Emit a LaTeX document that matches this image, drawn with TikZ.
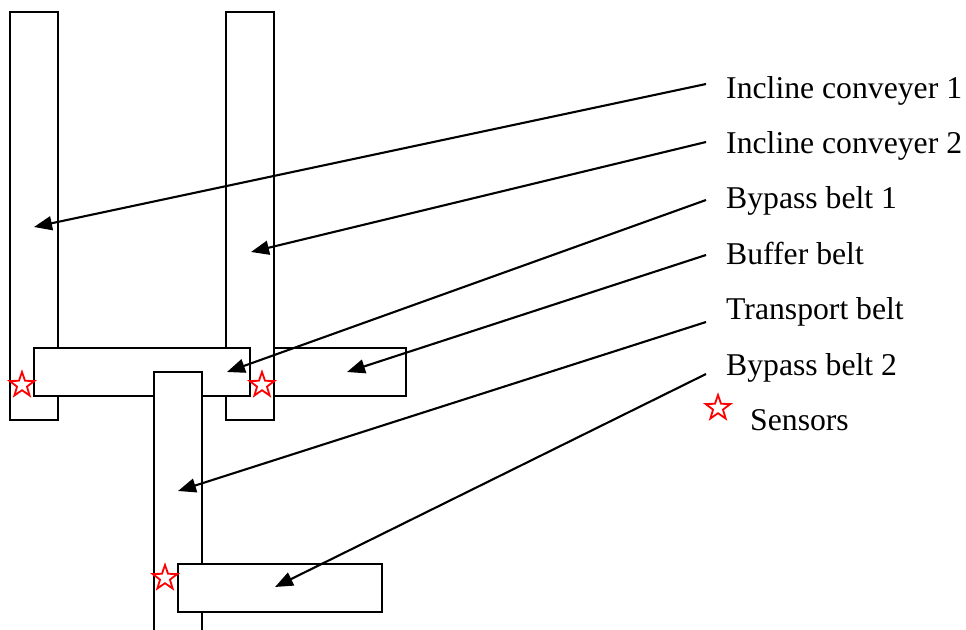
\documentclass[tikz,border=0pt]{standalone}
\usepackage{fontspec}
\setmainfont{Liberation Serif}
\usetikzlibrary{shapes.geometric,arrows.meta}
\begin{document}
\begin{tikzpicture}[x=1pt,y=-1pt,
  belt/.style={draw, fill=white, line width=2.4pt, inner sep=0pt, outer sep=0pt},
  sensor/.style={star, star points=5, star point ratio=2.5, draw=red,
    line width=1.8pt, minimum size=26pt, inner sep=0pt},
  lbl/.style={anchor=base west, inner sep=0pt, font=\fontsize{31.7}{36}\selectfont},
  leader/.style={line width=2.1pt, -{Triangle[length=18pt,width=14pt]}}]
\useasboundingbox (0,0) rectangle (966,629);

% incline conveyers (vertical)
\node[belt, minimum width=48pt, minimum height=408pt] (inc1) at (34,216) {};
\node[belt, minimum width=48pt, minimum height=408pt] (inc2) at (250,216) {};
% buffer belt and bypass belt 1 (horizontal)
\node[belt, minimum width=132pt, minimum height=48pt] (buffer) at (340,372) {};
\node[belt, minimum width=216pt, minimum height=48pt] (bypassA) at (142,372) {};
% transport belt, open at the bottom
\draw[belt] (154,640) -- (154,372) -- (202,372) -- (202,640);
\coordinate (transport) at (178,500);
% bypass belt 2
\node[belt, minimum width=204pt, minimum height=48pt] (bypassB) at (280,588) {};

% sensors
\node[sensor] (s1) at (22,385) {};
\node[sensor] (s2) at (262,385) {};
\node[sensor] (s3) at (165,578) {};

% labels
\node[lbl] (l1) at (726,98) {Incline conveyer 1};
\node[lbl] (l2) at (726,153) {Incline conveyer 2};
\node[lbl] (l3) at (726,208) {Bypass belt 1};
\node[lbl] (l4) at (726,264) {Buffer belt};
\node[lbl] (l5) at (726,319) {Transport belt};
\node[lbl] (l6) at (726,375) {Bypass belt 2};
\node[sensor] (sk) at (718,408) {};
\node[lbl] (l7) at (750,430) {Sensors};

% leader start points and targets
\coordinate (a1) at (706,84);   \coordinate (t1) at (34,227);
\coordinate (a2) at (706,142);  \coordinate (t2) at (251,252);
\coordinate (a3) at (706,200);  \coordinate (t3) at (227,372);
\coordinate (a4) at (706,255);  \coordinate (t4) at (347,372);
\coordinate (a5) at (706,322);  \coordinate (t5) at (178,491);
\coordinate (a6) at (706,374);  \coordinate (t6) at (275,587);

\draw[leader] (a1) -- (t1);
\draw[leader] (a2) -- (t2);
\draw[leader] (a3) -- (t3);
\draw[leader] (a4) -- (t4);
\draw[leader] (a5) -- (t5);
\draw[leader] (a6) -- (t6);
\end{tikzpicture}
\end{document}
